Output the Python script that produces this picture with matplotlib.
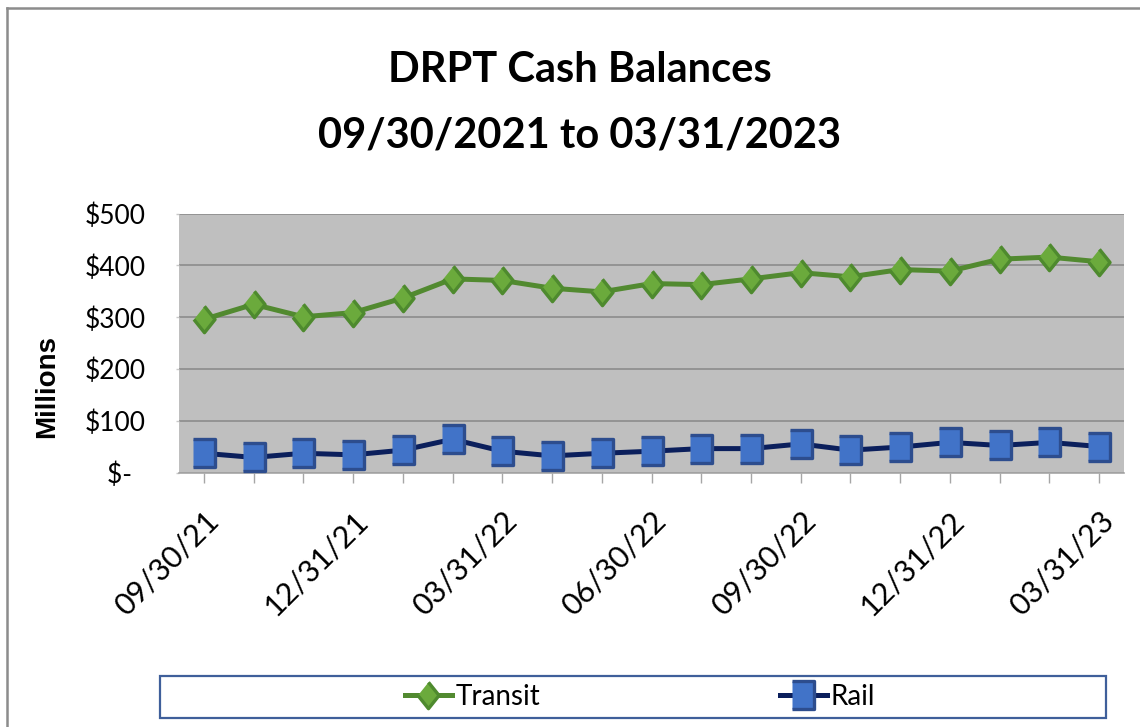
import matplotlib
matplotlib.use("Agg")
import matplotlib.pyplot as plt
from matplotlib.patches import Rectangle
from matplotlib.lines import Line2D
from matplotlib.transforms import ScaledTranslation

# Data (millions of dollars), month-end balances
dates = ["09/30/21", "10/31/21", "11/30/21", "12/31/21", "01/31/22", "02/28/22",
         "03/31/22", "04/30/22", "05/31/22", "06/30/22", "07/31/22", "08/31/22",
         "09/30/22", "10/31/22", "11/30/22", "12/31/22", "01/31/23", "02/28/23",
         "03/31/23"]
transit = [296, 325, 301, 309, 337, 374, 371, 356, 349, 365, 363, 374,
           386, 378, 392, 389, 412, 416, 407]
rail = [38, 30, 38, 35, 44, 65, 42, 33, 38, 42, 47, 47,
        56, 44, 50, 59, 53, 59, 51]
yticks = [0, 100, 200, 300, 400, 500]
ylabels = ["$-  ", "$100", "$200", "$300", "$400", "$500"]

plt.rcParams['font.family'] = ["Lato", "DejaVu Sans"]

W, H = 1140, 727
fig = plt.figure(figsize=(W / 100, H / 100), dpi=100)
ax = fig.add_axes([179 / W, 1 - 473 / H, (1124 - 179) / W, (473 - 213.5) / H])
ax.set_facecolor("#BFBFBF")

diamond = [(0, 0.5), (0.4, 0), (0, -0.5), (-0.4, 0)]
square = [(-0.4, -0.5), (0.4, -0.5), (0.4, 0.5), (-0.4, 0.5)]

x = list(range(len(dates)))
ax.plot(x, transit, color="#528A30", lw=3.6, marker=diamond, ms=19,
        mfc="#6BAA3C", mec="#4E8A2E", mew=2.4, label="Transit", zorder=3)
ax.plot(x, rail, color="#0B1F5C", lw=3.6, marker=square, ms=20,
        mfc="#4173C8", mec="#2D4D8E", mew=2.4, label="Rail", zorder=3)

ax.set_xlim(-0.5, len(dates) - 0.5)
ax.set_ylim(0, 500)
ax.set_yticks(yticks)
ax.set_yticklabels(ylabels, fontsize=19)
ax.set_xticks(x)
ax.set_xticklabels([d if i % 3 == 0 else "" for i, d in enumerate(dates)],
                   rotation=45, ha="right", va="top", rotation_mode="anchor",
                   fontsize=22)
shift = ScaledTranslation(-11 / 100, 0, fig.dpi_scale_trans)
for lbl in ax.get_xticklabels():
    lbl.set_transform(lbl.get_transform() + shift)
ax.grid(axis="y", color="#8C8C8C", lw=1.2)
ax.set_axisbelow(True)
for s in ["left", "right", "top"]:
    ax.spines[s].set_visible(False)
ax.spines["bottom"].set_color("#A6A6A6")
ax.spines["bottom"].set_linewidth(1.2)
ax.tick_params(axis="x", color="#A6A6A6", length=7, width=1, pad=17)
ax.tick_params(axis="y", color="#C8C8C8", length=2, width=1, pad=22)

fig.text(47 / W, 1 - 386 / H, "Millions", rotation=90, ha="center", va="center",
         fontsize=20, fontweight="bold", family=["Liberation Sans", "DejaVu Sans"])

fig.text(580 / W, 1 - 70 / H, "DRPT Cash Balances", ha="center", va="center",
         fontsize=30, fontweight="bold")
fig.text(580 / W, 1 - 135 / H, "09/30/2021 to 03/31/2023", ha="center", va="center",
         fontsize=30, fontweight="bold")

# chart frame (left and top edges visible)
fig.add_artist(Line2D([6.5 / W, 6.5 / W], [0, 1 - 8 / H], transform=fig.transFigure,
                      color="#8C8C8C", lw=1.8))
fig.add_artist(Line2D([6.5 / W, 1], [1 - 8 / H, 1 - 8 / H], transform=fig.transFigure,
                      color="#8C8C8C", lw=1.8))

# legend box
fig.add_artist(Rectangle((160 / W, 1 - 718 / H), (1106 - 160) / W, (718 - 676) / H,
                         transform=fig.transFigure, fill=False, ec="#3F5F9A", lw=1.6))
fig.legend(loc="center", bbox_to_anchor=(640 / W, 1 - 697 / H), ncol=2, frameon=False,
           fontsize=20, handlelength=1.7, handletextpad=0.15, columnspacing=8.6)

fig.savefig("out.png", dpi=100)
